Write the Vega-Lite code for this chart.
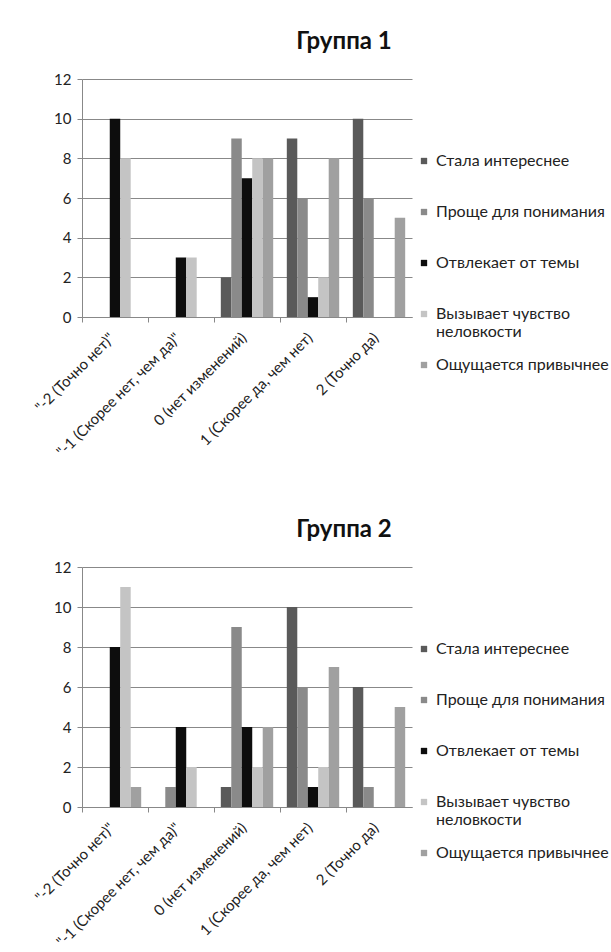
{
  "$schema": "https://vega.github.io/schema/vega-lite/v6.json",
  "background": "white",
  "padding": {"left": 32, "top": 30, "right": 0, "bottom": 0},
  "config": {
    "font": "Lato",
    "view": {"stroke": null},
    "axis": {"labelFont": "Lato", "labelFontSize": 15, "labelColor": "#222", "domainColor": "#888", "tickColor": "#888", "tickSize": 5, "gridColor": "#888", "titleFont": "Lato"},
    "legend": {"labelFont": "Lato", "labelFontSize": 16, "labelColor": "#222", "labelLimit": 260}
  },
  "datasets": {
    "d": [
      {"g": 1, "cat": "\"-2 (Точно нет)\"", "s": "Стала интереснее", "v": 0},
      {"g": 1, "cat": "\"-2 (Точно нет)\"", "s": "Проще для понимания", "v": 0},
      {"g": 1, "cat": "\"-2 (Точно нет)\"", "s": "Отвлекает от темы", "v": 10},
      {"g": 1, "cat": "\"-2 (Точно нет)\"", "s": "Вызывает чувство неловкости", "v": 8},
      {"g": 1, "cat": "\"-2 (Точно нет)\"", "s": "Ощущается привычнее", "v": 0},
      {"g": 1, "cat": "\"-1 (Скорее нет, чем да)\"", "s": "Стала интереснее", "v": 0},
      {"g": 1, "cat": "\"-1 (Скорее нет, чем да)\"", "s": "Проще для понимания", "v": 0},
      {"g": 1, "cat": "\"-1 (Скорее нет, чем да)\"", "s": "Отвлекает от темы", "v": 3},
      {"g": 1, "cat": "\"-1 (Скорее нет, чем да)\"", "s": "Вызывает чувство неловкости", "v": 3},
      {"g": 1, "cat": "\"-1 (Скорее нет, чем да)\"", "s": "Ощущается привычнее", "v": 0},
      {"g": 1, "cat": "0 (нет изменений)", "s": "Стала интереснее", "v": 2},
      {"g": 1, "cat": "0 (нет изменений)", "s": "Проще для понимания", "v": 9},
      {"g": 1, "cat": "0 (нет изменений)", "s": "Отвлекает от темы", "v": 7},
      {"g": 1, "cat": "0 (нет изменений)", "s": "Вызывает чувство неловкости", "v": 8},
      {"g": 1, "cat": "0 (нет изменений)", "s": "Ощущается привычнее", "v": 8},
      {"g": 1, "cat": "1 (Скорее да, чем нет)", "s": "Стала интереснее", "v": 9},
      {"g": 1, "cat": "1 (Скорее да, чем нет)", "s": "Проще для понимания", "v": 6},
      {"g": 1, "cat": "1 (Скорее да, чем нет)", "s": "Отвлекает от темы", "v": 1},
      {"g": 1, "cat": "1 (Скорее да, чем нет)", "s": "Вызывает чувство неловкости", "v": 2},
      {"g": 1, "cat": "1 (Скорее да, чем нет)", "s": "Ощущается привычнее", "v": 8},
      {"g": 1, "cat": "2 (Точно да)", "s": "Стала интереснее", "v": 10},
      {"g": 1, "cat": "2 (Точно да)", "s": "Проще для понимания", "v": 6},
      {"g": 1, "cat": "2 (Точно да)", "s": "Отвлекает от темы", "v": 0},
      {"g": 1, "cat": "2 (Точно да)", "s": "Вызывает чувство неловкости", "v": 0},
      {"g": 1, "cat": "2 (Точно да)", "s": "Ощущается привычнее", "v": 5},
      {"g": 2, "cat": "\"-2 (Точно нет)\"", "s": "Стала интереснее", "v": 0},
      {"g": 2, "cat": "\"-2 (Точно нет)\"", "s": "Проще для понимания", "v": 0},
      {"g": 2, "cat": "\"-2 (Точно нет)\"", "s": "Отвлекает от темы", "v": 8},
      {"g": 2, "cat": "\"-2 (Точно нет)\"", "s": "Вызывает чувство неловкости", "v": 11},
      {"g": 2, "cat": "\"-2 (Точно нет)\"", "s": "Ощущается привычнее", "v": 1},
      {"g": 2, "cat": "\"-1 (Скорее нет, чем да)\"", "s": "Стала интереснее", "v": 0},
      {"g": 2, "cat": "\"-1 (Скорее нет, чем да)\"", "s": "Проще для понимания", "v": 1},
      {"g": 2, "cat": "\"-1 (Скорее нет, чем да)\"", "s": "Отвлекает от темы", "v": 4},
      {"g": 2, "cat": "\"-1 (Скорее нет, чем да)\"", "s": "Вызывает чувство неловкости", "v": 2},
      {"g": 2, "cat": "\"-1 (Скорее нет, чем да)\"", "s": "Ощущается привычнее", "v": 0},
      {"g": 2, "cat": "0 (нет изменений)", "s": "Стала интереснее", "v": 1},
      {"g": 2, "cat": "0 (нет изменений)", "s": "Проще для понимания", "v": 9},
      {"g": 2, "cat": "0 (нет изменений)", "s": "Отвлекает от темы", "v": 4},
      {"g": 2, "cat": "0 (нет изменений)", "s": "Вызывает чувство неловкости", "v": 2},
      {"g": 2, "cat": "0 (нет изменений)", "s": "Ощущается привычнее", "v": 4},
      {"g": 2, "cat": "1 (Скорее да, чем нет)", "s": "Стала интереснее", "v": 10},
      {"g": 2, "cat": "1 (Скорее да, чем нет)", "s": "Проще для понимания", "v": 6},
      {"g": 2, "cat": "1 (Скорее да, чем нет)", "s": "Отвлекает от темы", "v": 1},
      {"g": 2, "cat": "1 (Скорее да, чем нет)", "s": "Вызывает чувство неловкости", "v": 2},
      {"g": 2, "cat": "1 (Скорее да, чем нет)", "s": "Ощущается привычнее", "v": 7},
      {"g": 2, "cat": "2 (Точно да)", "s": "Стала интереснее", "v": 6},
      {"g": 2, "cat": "2 (Точно да)", "s": "Проще для понимания", "v": 1},
      {"g": 2, "cat": "2 (Точно да)", "s": "Отвлекает от темы", "v": 0},
      {"g": 2, "cat": "2 (Точно да)", "s": "Вызывает чувство неловкости", "v": 0},
      {"g": 2, "cat": "2 (Точно да)", "s": "Ощущается привычнее", "v": 5}
    ]
  },
  "spacing": 58,
  "resolve": {"scale": {"color": "independent"}, "legend": {"color": "independent"}},
  "vconcat": [
    {
      "title": {"text": "Группа 1", "fontSize": 24, "fontWeight": "bold", "font": "Lato", "color": "#111", "anchor": "middle", "frame": "group", "dx": 97, "offset": 18},
      "width": 330,
      "height": 238,
      "data": {"name": "d"},
      "transform": [{"filter": "datum.g == 1"}],
      "mark": {"type": "bar"},
      "encoding": {
        "x": {"field": "cat", "type": "nominal", "sort": ["\"-2 (Точно нет)\"", "\"-1 (Скорее нет, чем да)\"", "0 (нет изменений)", "1 (Скорее да, чем нет)", "2 (Точно да)"], "scale": {"paddingInner": 0, "paddingOuter": 0}, "axis": {"title": null, "labelAngle": -45, "labelAlign": "right", "labelBaseline": "middle", "bandPosition": 0, "labelPadding": 13, "labelOffset": -3, "grid": false}},
        "xOffset": {"field": "s", "type": "nominal", "sort": ["Стала интереснее", "Проще для понимания", "Отвлекает от темы", "Вызывает чувство неловкости", "Ощущается привычнее"], "scale": {"paddingInner": 0, "paddingOuter": 0.65}},
        "y": {"field": "v", "type": "quantitative", "scale": {"domain": [0, 12]}, "axis": {"title": null, "values": [0, 2, 4, 6, 8, 10, 12], "grid": true, "labelPadding": 6}},
        "color": {"field": "s", "type": "nominal", "scale": {"domain": ["Стала интереснее", "Проще для понимания", "Отвлекает от темы", "Вызывает чувство неловкости", "Ощущается привычнее"], "range": ["#5a5a5a", "#8a8a8a", "#0d0d0d", "#c4c4c4", "#a0a0a0"]}, "legend": {"title": null, "orient": "none", "legendX": 334, "legendY": 74, "columns": 1, "gridAlign": "all", "symbolType": "square", "symbolSize": 40, "rowPadding": 17, "labelExpr": "datum.label == 'Вызывает чувство неловкости' ? ['Вызывает чувство', 'неловкости'] : datum.label"}}
      }
    },
    {
      "title": {"text": "Группа 2", "fontSize": 24, "fontWeight": "bold", "font": "Lato", "color": "#111", "anchor": "middle", "frame": "group", "dx": 97, "offset": 18},
      "width": 330,
      "height": 240,
      "data": {"name": "d"},
      "transform": [{"filter": "datum.g == 2"}],
      "mark": {"type": "bar"},
      "encoding": {
        "x": {"field": "cat", "type": "nominal", "sort": ["\"-2 (Точно нет)\"", "\"-1 (Скорее нет, чем да)\"", "0 (нет изменений)", "1 (Скорее да, чем нет)", "2 (Точно да)"], "scale": {"paddingInner": 0, "paddingOuter": 0}, "axis": {"title": null, "labelAngle": -45, "labelAlign": "right", "labelBaseline": "middle", "bandPosition": 0, "labelPadding": 13, "labelOffset": -3, "grid": false}},
        "xOffset": {"field": "s", "type": "nominal", "sort": ["Стала интереснее", "Проще для понимания", "Отвлекает от темы", "Вызывает чувство неловкости", "Ощущается привычнее"], "scale": {"paddingInner": 0, "paddingOuter": 0.65}},
        "y": {"field": "v", "type": "quantitative", "scale": {"domain": [0, 12]}, "axis": {"title": null, "values": [0, 2, 4, 6, 8, 10, 12], "grid": true, "labelPadding": 6}},
        "color": {"field": "s", "type": "nominal", "scale": {"domain": ["Стала интереснее", "Проще для понимания", "Отвлекает от темы", "Вызывает чувство неловкости", "Ощущается привычнее"], "range": ["#5a5a5a", "#8a8a8a", "#0d0d0d", "#c4c4c4", "#a0a0a0"]}, "legend": {"title": null, "orient": "none", "legendX": 334, "legendY": 74, "columns": 1, "gridAlign": "all", "symbolType": "square", "symbolSize": 40, "rowPadding": 17, "labelExpr": "datum.label == 'Вызывает чувство неловкости' ? ['Вызывает чувство', 'неловкости'] : datum.label"}}
      }
    }
  ]
}
